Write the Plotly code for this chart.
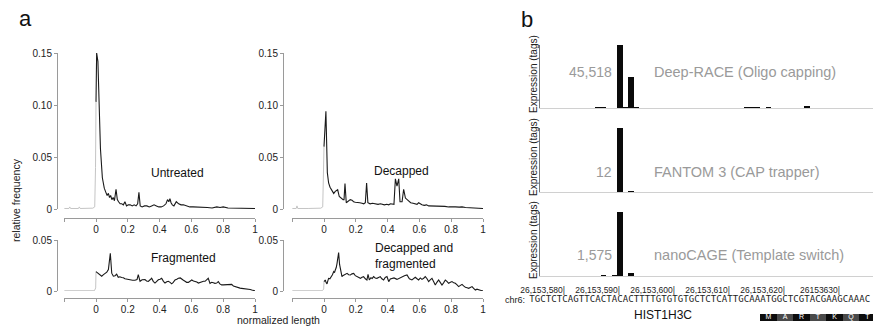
import plotly.graph_objects as go

# ---------------- Panel a data (normalized length vs relative frequency) ----------------
untreated_neg_x = [-0.2, -0.17, -0.165, -0.16, -0.11, -0.105, -0.1, -0.02, -0.008, -0.003, 0.0]
untreated_neg_y = [0.0005, 0.0005, 0.002, 0.0005, 0.0005, 0.002, 0.0005, 0.0008, 0.002, 0.04, 0.103]
untreated_x = [0, 0.004, 0.012, 0.02, 0.028, 0.04, 0.052, 0.062, 0.07, 0.078, 0.085, 0.092, 0.1, 0.108,
               0.116, 0.126, 0.134, 0.142, 0.152, 0.162, 0.172, 0.182, 0.192, 0.203, 0.215, 0.228, 0.24,
               0.252, 0.262, 0.27, 0.278, 0.29, 0.305, 0.32, 0.335, 0.35, 0.365, 0.38, 0.395, 0.41, 0.425,
               0.44, 0.45, 0.458, 0.465, 0.472, 0.48, 0.49, 0.505, 0.52, 0.535, 0.55, 0.57, 0.59, 0.61,
               0.64, 0.67, 0.7, 0.73, 0.76, 0.78, 0.8, 0.83, 0.86, 0.9, 0.94, 0.97, 1.0]
untreated_y = [0.103, 0.15, 0.142, 0.1, 0.058, 0.03, 0.02, 0.016, 0.013, 0.015, 0.011, 0.013, 0.009, 0.011,
               0.008, 0.019, 0.009, 0.007, 0.005, 0.005, 0.004, 0.007, 0.003, 0.004, 0.004, 0.003, 0.004,
               0.003, 0.005, 0.016, 0.003, 0.002, 0.003, 0.003, 0.002, 0.003, 0.004, 0.003, 0.002, 0.002, 0.003,
               0.005, 0.009, 0.007, 0.01, 0.006, 0.004, 0.003, 0.007, 0.005, 0.004, 0.004, 0.003, 0.002, 0.002,
               0.002, 0.0015, 0.0015, 0.001, 0.002, 0.0015, 0.002, 0.001, 0.001, 0.0008, 0.0006, 0.0005, 0.0005]

decapped_neg_x = [-0.2, -0.175, -0.17, -0.165, -0.1, -0.02, -0.008, -0.003, 0.0]
decapped_neg_y = [0.0005, 0.0005, 0.003, 0.0005, 0.0005, 0.0008, 0.002, 0.03, 0.06]
decapped_x = [0, 0.012, 0.021, 0.029, 0.038, 0.046, 0.055, 0.061, 0.071, 0.08, 0.086, 0.096, 0.104, 0.113,
              0.12, 0.126, 0.132, 0.14, 0.148, 0.155, 0.165, 0.176, 0.186, 0.197, 0.21, 0.225, 0.239, 0.25,
              0.26, 0.268, 0.276, 0.29, 0.305, 0.323, 0.34, 0.355, 0.365, 0.38, 0.395, 0.407, 0.418, 0.428,
              0.44, 0.449, 0.459, 0.47, 0.478, 0.491, 0.501, 0.512, 0.522, 0.532, 0.545, 0.56, 0.574, 0.585,
              0.595, 0.605, 0.616, 0.63, 0.645, 0.658, 0.68, 0.7, 0.72, 0.742, 0.76, 0.784, 0.8, 0.826, 0.85,
              0.868, 0.89, 0.91, 0.93, 0.952, 0.97, 1.0]
decapped_y = [0.06, 0.094, 0.035, 0.025, 0.021, 0.0185, 0.016, 0.015, 0.017, 0.018, 0.0185, 0.012, 0.011, 0.009,
              0.009, 0.009, 0.0245, 0.006, 0.007, 0.0085, 0.009, 0.0085, 0.007, 0.0065, 0.0065, 0.006, 0.0055, 0.005,
              0.006, 0.025, 0.006, 0.005, 0.0055, 0.005, 0.0045, 0.005, 0.0045, 0.004, 0.0045, 0.004, 0.005, 0.0045,
              0.0045, 0.029, 0.022, 0.029, 0.007, 0.007, 0.019, 0.0105, 0.009, 0.007, 0.006, 0.0055, 0.005, 0.0045,
              0.006, 0.005, 0.004, 0.0035, 0.004, 0.003, 0.003, 0.003, 0.0025, 0.0023, 0.0025, 0.002, 0.0022, 0.002, 0.0018,
              0.002, 0.0015, 0.0012, 0.001, 0.0006, 0.001, 0.0005]

fragmented_neg_x = [-0.2, -0.01, -0.002, 0.0]
fragmented_neg_y = [0.0003, 0.0003, 0.003, 0.019]
fragmented_x = [0, 0.015, 0.025, 0.036, 0.047, 0.057, 0.068, 0.078, 0.09, 0.099, 0.109, 0.12, 0.13, 0.14, 0.15,
                0.161, 0.172, 0.182, 0.193, 0.203, 0.215, 0.23, 0.245, 0.258, 0.266, 0.277, 0.29, 0.308, 0.318,
                0.329, 0.34, 0.35, 0.36, 0.371, 0.382, 0.392, 0.403, 0.413, 0.424, 0.434, 0.445, 0.455, 0.466,
                0.476, 0.486, 0.497, 0.508, 0.518, 0.53, 0.539, 0.55, 0.56, 0.57, 0.581, 0.592, 0.602, 0.613,
                0.623, 0.634, 0.644, 0.655, 0.665, 0.676, 0.686, 0.696, 0.706, 0.717, 0.728, 0.738, 0.748, 0.759,
                0.769, 0.779, 0.79, 0.8, 0.811, 0.822, 0.832, 0.843, 0.853, 0.864, 0.874, 0.885, 0.895, 0.906,
                0.916, 0.927, 0.937, 0.948, 0.958, 0.97, 0.98, 0.99, 1.0]
fragmented_y = [0.019, 0.017, 0.0165, 0.0145, 0.016, 0.017, 0.0185, 0.021, 0.037, 0.0175, 0.0145, 0.015, 0.0165,
                0.0135, 0.014, 0.0132, 0.013, 0.012, 0.0115, 0.0112, 0.0108, 0.0105, 0.0105, 0.0112, 0.016, 0.0095,
                0.011, 0.0112, 0.0098, 0.0095, 0.011, 0.0125, 0.0095, 0.0078, 0.0095, 0.011, 0.0115, 0.0125, 0.0095,
                0.0078, 0.009, 0.0095, 0.0085, 0.007, 0.0085, 0.0108, 0.0115, 0.0125, 0.0128, 0.0115, 0.0105, 0.0095,
                0.0085, 0.0085, 0.0095, 0.0108, 0.0098, 0.0095, 0.0088, 0.0078, 0.0085, 0.0092, 0.0095, 0.0095, 0.011,
                0.0125, 0.0075, 0.0085, 0.008, 0.0075, 0.0078, 0.0092, 0.007, 0.006, 0.006, 0.006, 0.0058, 0.0059,
                0.0062, 0.0065, 0.005, 0.0043, 0.0038, 0.0032, 0.0028, 0.0026, 0.0025, 0.0023, 0.0021, 0.002, 0.0015,
                0.001, 0.0006, 0.0002]

decfrag_neg_x = [-0.2, -0.01, -0.002, 0.0]
decfrag_neg_y = [0.0003, 0.0003, 0.002, 0.0092]
decfrag_x = [0, 0.008, 0.014, 0.019, 0.024, 0.029, 0.037, 0.046, 0.053, 0.061, 0.066, 0.071, 0.077, 0.082, 0.092,
             0.098, 0.103, 0.108, 0.113, 0.118, 0.124, 0.134, 0.145, 0.155, 0.166, 0.176, 0.187, 0.197, 0.208,
             0.218, 0.229, 0.239, 0.249, 0.26, 0.27, 0.277, 0.285, 0.295, 0.303, 0.312, 0.322, 0.333, 0.343,
             0.354, 0.364, 0.375, 0.385, 0.396, 0.402, 0.407, 0.417, 0.428, 0.44, 0.459, 0.475, 0.491, 0.506,
             0.522, 0.537, 0.553, 0.564, 0.574, 0.585, 0.595, 0.606, 0.616, 0.627, 0.637, 0.648, 0.658, 0.668,
             0.679, 0.69, 0.7, 0.71, 0.721, 0.731, 0.742, 0.752, 0.763, 0.773, 0.784, 0.795, 0.805, 0.816, 0.826,
             0.837, 0.847, 0.858, 0.868, 0.878, 0.889, 0.9, 0.91, 0.92, 0.931, 0.941, 0.952, 0.962, 0.973, 0.983,
             0.994, 1.0]
decfrag_y = [0.0092, 0.0108, 0.008, 0.0069, 0.01, 0.0124, 0.012, 0.0141, 0.016, 0.019, 0.018, 0.0206, 0.023, 0.0271,
             0.0376, 0.026, 0.0206, 0.016, 0.0141, 0.015, 0.0157, 0.0165, 0.0173, 0.016, 0.0157, 0.0168, 0.0173, 0.015,
             0.0141, 0.0135, 0.0124, 0.0135, 0.0141, 0.012, 0.0108, 0.0164, 0.0108, 0.013, 0.0122, 0.0141, 0.0128,
             0.0124, 0.0135, 0.0141, 0.012, 0.0108, 0.0132, 0.0141, 0.0115, 0.0092, 0.0118, 0.0124, 0.0128, 0.0114,
             0.0128, 0.0141, 0.015, 0.0157, 0.012, 0.0108, 0.0125, 0.0134, 0.012, 0.0108, 0.0128, 0.0114, 0.0125,
             0.0141, 0.012, 0.0092, 0.011, 0.0124, 0.009, 0.0059, 0.0085, 0.0108, 0.0085, 0.0059, 0.008, 0.0108,
             0.0095, 0.0075, 0.0085, 0.0092, 0.008, 0.0075, 0.006, 0.0043, 0.0055, 0.0065, 0.005, 0.0036, 0.0032,
             0.0026, 0.0035, 0.0043, 0.0025, 0.001, 0.0018, 0.0016, 0.0008, 0.0003, 0.0003]

panel_a_names = ["Untreated", "Decapped", "Fragmented", "Decapped and<br>fragmented"]
x_ticks_a = [-0.2, 0, 0.2, 0.4, 0.6, 0.8, 1]
x_ticktext_a = ["", "0", "0.2", "0.4", "0.6", "0.8", "1"]
y_ticks_top = [0, 0.05, 0.10, 0.15]
y_ticktext_top = ["0", "0.05", "0.10", "0.15"]
y_ticks_bot = [0, 0.05]
y_ticktext_bot = ["0", "0.05"]

# ---------------- Panel b data (genome browser tracks) ----------------
track_names = ["Deep-RACE (Oligo capping)", "FANTOM 3 (CAP trapper)", "nanoCAGE (Template switch)"]
track_max_labels = ["45,518", "12", "1,575"]
track1_pos = [586, 587, 589, 590, 591, 592, 593, 594, 607, 613, 614, 615, 617, 624]
track1_val = [400, 600, 200, 45518, 500, 22400, 600, 300, 300, 600, 500, 400, 600, 1500]
track2_pos = [590, 592]
track2_val = [12, 0.2]
track3_pos = [587, 589, 590, 592, 610]
track3_val = [15, 15, 1575, 80, 12]
track_max = [45518, 12, 1575]
coord_ticks = [580, 590, 600, 610, 620, 630]
coord_labels = ["26,153,580|", "26,153,590|", "26,153,600|", "26,153,610|", "26,153,620|", "26153630|"]
seq_start = 574
sequence = "TGCTCTCAGTTCACTACACTTTTGTGTGTGCTCTCATTGCAAATGGCTCGTACGAAGCAAAC"
amino_acids = ["M", "A", "R", "T", "K", "Q", "T"]
gene_name = "HIST1H3C"

# ---------------- helpers (pixel layout -> paper) ----------------
W, H = 873, 326
def fx(p): return p / W
def fy(p): return 1 - p / H

FONT = "Arial, Liberation Sans, sans-serif"
AX = "#9a9a9a"
fig = go.Figure()
layout = dict(template="none", width=W, height=H, margin=dict(l=0, r=0, t=0, b=0, pad=0),
              paper_bgcolor="white", plot_bgcolor="white", showlegend=False,
              font=dict(family=FONT, size=10, color="#222"))

panels = [
    (untreated_neg_x, untreated_neg_y, untreated_x, untreated_y, (64.2, 255), (53, 209), 57, 218, (0, 0.15), True),
    (decapped_neg_x, decapped_neg_y, decapped_x, decapped_y, (292.2, 483), (53, 209), 283, 218, (0, 0.15), True),
    (fragmented_neg_x, fragmented_neg_y, fragmented_x, fragmented_y, (64.2, 255), (240, 291), 57, 298, (0, 0.05), False),
    (decfrag_neg_x, decfrag_neg_y, decfrag_x, decfrag_y, (292.2, 483), (240, 291), 283, 298, (0, 0.05), False),
]
for i, (nx, ny, bx, by, xd, yd, yax, xax, yr, top) in enumerate(panels):
    n = i + 1
    xa = "x" if n == 1 else f"x{n}"
    ya = "y" if n == 1 else f"y{n}"
    fig.add_trace(go.Scatter(x=nx, y=ny, mode="lines", line=dict(color="#c4c4c4", width=1),
                             xaxis=xa, yaxis=ya, hoverinfo="skip"))
    fig.add_trace(go.Scatter(x=bx, y=by, mode="lines", line=dict(color="#1a1a1a", width=1.1),
                             xaxis=xa, yaxis=ya))
    kx = "xaxis" if n == 1 else f"xaxis{n}"
    ky = "yaxis" if n == 1 else f"yaxis{n}"
    layout[kx] = dict(domain=[fx(xd[0]), fx(xd[1])], range=[-0.2, 1], anchor="free", position=fy(xax),
                      showline=True, linecolor=AX, linewidth=1, ticks="outside", ticklen=3, tickcolor=AX,
                      ticklabelstandoff=-1,
                      tickvals=x_ticks_a, ticktext=x_ticktext_a, showgrid=False, zeroline=False,
                      tickfont=dict(size=10, color="#222"), fixedrange=True, automargin=False)
    layout[ky] = dict(domain=[fy(yd[1]), fy(yd[0])], range=list(yr), anchor="free", position=fx(yax),
                      showline=True, linecolor=AX, linewidth=1, ticks="outside", ticklen=3, tickcolor=AX,
                      tickvals=y_ticks_top if top else y_ticks_bot,
                      ticktext=y_ticktext_top if top else y_ticktext_bot,
                      showgrid=False, zeroline=False, tickfont=dict(size=10, color="#222"),
                      fixedrange=True, automargin=False)

ann = []
def note(text, x, y, size, color="#111", xa="center", ya="middle", **kw):
    d = dict(text=text, x=fx(x), y=fy(y), xref="paper", yref="paper", xanchor=xa, yanchor=ya,
             showarrow=False, font=dict(size=size, color=color, family=kw.pop("family", FONT)))
    d.update(kw)
    ann.append(d)

note("a", 17, 18, 22, xa="left")
note("b", 519, 20, 22, xa="left")
note(panel_a_names[0], 177, 173, 12)
note(panel_a_names[1], 401, 171, 12)
note(panel_a_names[2], 183, 258, 12)
note(panel_a_names[3], 373, 256, 12, xa="left", align="left")
note("normalized length", 278, 320, 10.5, color="#222")
note("relative frequency", 16, 200, 10.5, color="#222", textangle=-90)

# ---------------- Panel b tracks ----------------
tracks = [(track1_pos, track1_val, (45, 108), 74, 72),
          (track2_pos, track2_val, (128, 192), 157, 172),
          (track3_pos, track3_val, (212, 276), 240, 255)]
xr_b = [575.45, 636]
bp_per_px = (xr_b[1] - xr_b[0]) / (873 - 540)
for k, (pos, val, yd, labc, txty) in enumerate(tracks):
    n = 5 + k
    fig.add_trace(go.Bar(x=pos, y=val, width=1, marker=dict(color="#0a0a0a", line=dict(width=0)),
                         xaxis=f"x{n}", yaxis=f"y{n}"))
    layout[f"xaxis{n}"] = dict(domain=[fx(540), 1], range=xr_b, anchor=f"y{n}", showline=True,
                               linecolor="#d0d0d0", linewidth=1, showticklabels=False, ticks="",
                               showgrid=False, zeroline=False, fixedrange=True, automargin=False)
    layout[f"yaxis{n}"] = dict(domain=[fy(yd[1]), fy(yd[0])], range=[0, track_max[k]], anchor=f"x{n}",
                               showline=True, linecolor="#777", linewidth=1, showticklabels=False,
                               ticks="", showgrid=False, zeroline=False, fixedrange=True, automargin=False)
    note("Expression (tags)", 533, labc, 10, color="#222", textangle=-90)
    note(track_max_labels[k], 614, txty, 14, color="#9a9a9a", xa="right")
    note(track_names[k], 652, txty, 14.5, color="#9a9a9a", xa="left")

# bottom annotation strip (coordinates, sequence, gene) - same bp scale, wider domain
x8_left_px = 505
layout["xaxis8"] = dict(domain=[fx(x8_left_px), 1],
                        range=[xr_b[0] - (540 - x8_left_px) * bp_per_px, xr_b[1]],
                        anchor="y8", visible=False, fixedrange=True, automargin=False)
layout["yaxis8"] = dict(domain=[0, fy(282)], range=[0, 1], anchor="x8", visible=False, fixedrange=True,
                        automargin=False)
fig.add_trace(go.Scatter(x=coord_ticks, y=[0.8] * len(coord_ticks), mode="text", text=coord_labels,
                         textposition="middle left", cliponaxis=False,
                         textfont=dict(family="Liberation Sans Narrow, Arial Narrow, Arial", size=8.5, color="#222"),
                         xaxis="x8", yaxis="y8"))
seq_pos = [seq_start + i for i in range(len(sequence))]
fig.add_trace(go.Scatter(x=seq_pos, y=[0.59] * len(sequence), mode="text", text=list(sequence),
                         cliponaxis=False, textfont=dict(family="DejaVu Sans Mono", size=9, color="#222"),
                         xaxis="x8", yaxis="y8"))
atg = seq_start + sequence.find("ATG")
aa_centers = [atg + 1 + 3 * i for i in range(len(amino_acids))]
aa_colors = ["#0d0d0d" if i % 2 == 0 else "#4a4a4a" for i in range(len(amino_acids))]
fig.add_trace(go.Bar(x=aa_centers, y=[0.16] * len(amino_acids), base=0.114, width=3,
                     marker=dict(color=aa_colors, line=dict(width=0)), xaxis="x8", yaxis="y8"))
fig.add_trace(go.Scatter(x=aa_centers, y=[0.194] * len(amino_acids), mode="text", text=amino_acids,
                         cliponaxis=True, textfont=dict(size=7, color="white"), xaxis="x8", yaxis="y8"))
note("chr6:", 527, 300, 9, color="#222", xa="right", family="Liberation Sans Narrow, Arial Narrow, Arial")
note(gene_name, 663, 315, 12)

layout["annotations"] = ann
layout["bargap"] = 0
fig.update_layout(**layout)
fig.write_html("out.html", config={"displayModeBar": False, "staticPlot": True},
               post_script="document.body.style.margin='0';document.body.style.padding='0';"
                           "document.body.style.overflow='hidden';")
